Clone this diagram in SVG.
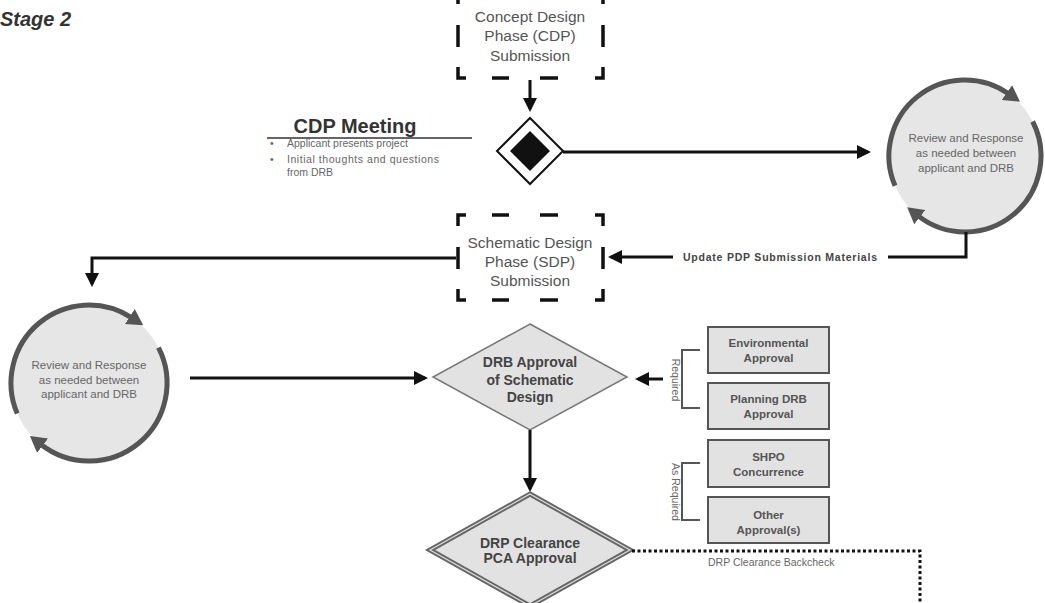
<svg xmlns="http://www.w3.org/2000/svg" width="1045" height="603" viewBox="0 0 1045 603">
<style>
text{font-family:"Liberation Sans",Arial,sans-serif}
.ph{font-size:15.5px;fill:#555;text-anchor:middle}
.cir{font-size:11.5px;fill:#666;text-anchor:middle}
.bx{fill:#e2e2e2;stroke:#555;stroke-width:2}
.bt{font-size:11.5px;font-weight:bold;fill:#555;text-anchor:middle}
.dt{font-size:14px;font-weight:bold;fill:#444;text-anchor:middle}
.small{font-size:10.5px;fill:#666}
.con{fill:none;stroke:#111;stroke-width:3}
.arc{fill:none;stroke:#555;stroke-width:5}
.disk{fill:#e6e6e6}
.brk{fill:none;stroke:#555;stroke-width:2}
</style>
<defs>
<marker id="ah" viewBox="0 0 14 14" refX="11" refY="7" markerWidth="14" markerHeight="14" orient="auto" markerUnits="userSpaceOnUse"><path d="M0,0 L14,7 L0,14 z" fill="#111"/></marker>
<marker id="arh" viewBox="0 0 16 18" refX="2" refY="9" markerWidth="16" markerHeight="18" orient="auto" markerUnits="userSpaceOnUse"><path d="M0,0 L16,9 L0,18 z" fill="#555"/></marker>
<g id="frame" fill="none" stroke="#111" stroke-width="3.5">
<path d="M0,11 V0 H8 M34,0 H51 M82,0 H100 M137,0 H145 V11 M145,32 V54 M145,74 V85 H137 M100,85 H82 M51,85 H34 M8,85 H0 V74 M0,54 V32"/>
</g>
</defs>

<text x="0" y="26" font-size="20" font-weight="bold" font-style="italic" fill="#333">Stage 2</text>

<g id="concept">
<use href="#frame" x="458" y="-7"/>
<text class="ph" x="530" y="22">Concept Design</text>
<text class="ph" x="530" y="41">Phase (CDP)</text>
<text class="ph" x="530" y="61">Submission</text>
</g>

<g id="cdp-meeting">
<text x="355" y="133" font-size="20" font-weight="bold" fill="#333" text-anchor="middle">CDP Meeting</text>
<line x1="267" y1="138" x2="472" y2="138" stroke="#333" stroke-width="1.5"/>
<text class="small" x="270" y="147">•</text>
<text class="small" x="287" y="147">Applicant presents project</text>
<text class="small" x="270" y="163">•</text>
<text class="small" x="287" y="163" textLength="152">Initial thoughts and questions</text>
<text class="small" x="287" y="176">from DRB</text>
</g>

<g id="cdp-diamond">
<polygon points="530,118 563,151 530,184 497,151" fill="#fff" stroke="#111" stroke-width="2"/>
<polygon points="530,131 550,151 530,171 510,151" fill="#111"/>
</g>

<g id="review-right">
<circle class="disk" cx="965" cy="156" r="76"/>
<path class="arc" d="M895,185.7 A76,76 0 0 1 1008.6,93.7" marker-end="url(#arh)"/>
<path class="arc" d="M1032.7,121.5 A76,76 0 0 1 918.2,215.9" marker-end="url(#arh)"/>
<text class="cir" x="966" y="142">Review and Response</text>
<text class="cir" x="966" y="157">as needed between</text>
<text class="cir" x="966" y="172">applicant and DRB</text>
</g>

<g id="sdp">
<use href="#frame" x="458" y="215"/>
<text class="ph" x="530" y="248">Schematic Design</text>
<text class="ph" x="530" y="267">Phase (SDP)</text>
<text class="ph" x="530" y="286">Submission</text>
</g>

<g id="review-left">
<circle class="disk" cx="89" cy="383" r="78"/>
<path class="arc" d="M17.2,413.5 A78,78 0 0 1 131.5,317.6" marker-end="url(#arh)"/>
<path class="arc" d="M158.5,347.6 A78,78 0 0 1 41,444.5" marker-end="url(#arh)"/>
<text class="cir" x="89" y="369">Review and Response</text>
<text class="cir" x="89" y="384">as needed between</text>
<text class="cir" x="89" y="398">applicant and DRB</text>
</g>

<g id="drb-approval">
<polygon points="530,324 627,377 530,430 433,377" fill="#e2e2e2" stroke="#777" stroke-width="1.5"/>
<text class="dt" x="530" y="367">DRB Approval</text>
<text class="dt" x="530" y="385">of Schematic</text>
<text class="dt" x="530" y="402">Design</text>
</g>

<g id="drp-clearance">
<polygon points="530,494 630,550 530,606 430,550" fill="#e2e2e2" stroke="#666" stroke-width="5"/>
<polygon points="530,494 630,550 530,606 430,550" fill="none" stroke="#ddd" stroke-width="1.2"/>
<text class="dt" x="530" y="548" font-size="13.5">DRP Clearance</text>
<text class="dt" x="530" y="563" font-size="13.5">PCA Approval</text>
</g>

<g id="env">
<rect class="bx" x="708" y="327" width="121" height="46"/>
<text class="bt" x="768.5" y="347">Environmental</text>
<text class="bt" x="768.5" y="362">Approval</text>
</g>
<g id="planning">
<rect class="bx" x="708" y="383" width="121" height="46"/>
<text class="bt" x="768.5" y="403">Planning DRB</text>
<text class="bt" x="768.5" y="418">Approval</text>
</g>
<g id="shpo">
<rect class="bx" x="708" y="440" width="121" height="47"/>
<text class="bt" x="768.5" y="461">SHPO</text>
<text class="bt" x="768.5" y="476">Concurrence</text>
</g>
<g id="other">
<rect class="bx" x="708" y="497" width="121" height="46"/>
<text class="bt" x="768.5" y="519">Other</text>
<text class="bt" x="768.5" y="534">Approval(s)</text>
</g>

<g id="brackets">
<path class="brk" d="M700,350 H682 V408 H700"/>
<text class="small" font-size="11" transform="translate(672,380) rotate(90)" text-anchor="middle">Required</text>
<path class="brk" d="M700,463 H682 V520 H700"/>
<text class="small" font-size="11" transform="translate(672,492) rotate(90)" text-anchor="middle">As Required</text>
</g>

<g id="connectors">
<path class="con" d="M530,80 V109" marker-end="url(#ah)"/>
<path class="con" d="M563,152 H868" marker-end="url(#ah)"/>
<path class="con" d="M966,232 V257 H888 M673,257 H611" marker-end="url(#ah)"/>
<text x="780" y="261" font-size="10.5" font-weight="bold" fill="#444" text-anchor="middle" textLength="194">Update PDP Submission Materials</text>
<path class="con" d="M456,258 H92 V284" marker-end="url(#ah)"/>
<path class="con" d="M190,378 H425" marker-end="url(#ah)"/>
<path class="con" d="M663,379 H638" marker-end="url(#ah)"/>
<path class="con" d="M530,430 V489" marker-end="url(#ah)"/>
<path d="M632,551 H920 V603" fill="none" stroke="#111" stroke-width="3" stroke-dasharray="3 2.5"/>
<text class="small" x="708" y="566" font-size="11.5">DRP Clearance Backcheck</text>
</g>
</svg>
